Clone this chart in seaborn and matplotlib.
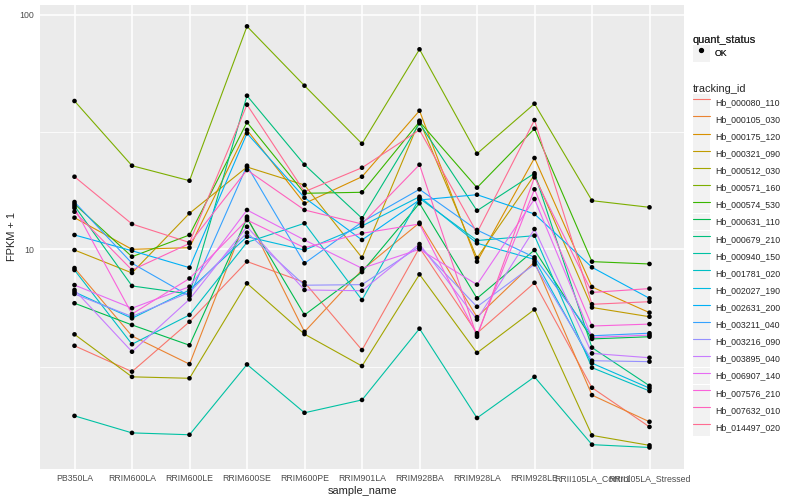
import matplotlib
matplotlib.use("Agg")
import pandas as pd
import matplotlib.pyplot as plt
from matplotlib.lines import Line2D
from matplotlib.patches import Patch
from matplotlib.legend_handler import HandlerTuple
import seaborn as sns

# samples on the x axis, in plot order
samples = [
    "PB350LA", "RRIM600LA", "RRIM600LE", "RRIM600SE", "RRIM600PE", "RRIM901LA",
    "RRIM928BA", "RRIM928LA", "RRIM928LE", "RRII105LA_Control", "RRII105LA_Stressed",
]

tracking_ids = [
    "Hb_000080_110", "Hb_000105_030", "Hb_000175_120", "Hb_000321_090",
    "Hb_000512_030", "Hb_000571_160", "Hb_000574_530", "Hb_000631_110",
    "Hb_000679_210", "Hb_000940_150", "Hb_001781_020", "Hb_002027_190",
    "Hb_002631_200", "Hb_003211_040", "Hb_003216_090", "Hb_003895_040",
    "Hb_006907_140", "Hb_007576_210", "Hb_007632_010", "Hb_014497_020",
]

# ggplot default hue palette for 20 groups
palette = [
    "#F8766D", "#EA8331", "#D89000", "#C09B00", "#A3A500", "#7CAE00", "#39B600",
    "#00BB4E", "#00BF7D", "#00C1A3", "#00BFC4", "#00BAE0", "#00B0F6", "#35A2FF",
    "#9590FF", "#C77CFF", "#E76BF3", "#FA62DB", "#FF62BC", "#FF6C91",
]

# FPKM + 1 per gene, one value per sample
hb_000080_110 = [3.88, 3.01, 4.91, 8.87, 7.23, 3.72, 10.15, 4.39, 7.20, 2.57, 1.75]
hb_000105_030 = [8.32, 4.27, 3.24, 13.77, 4.45, 8.16, 12.98, 5.14, 8.83, 2.39, 1.84]
hb_000175_120 = [13.64, 10.0, 10.16, 32.25, 15.68, 20.39, 38.97, 8.86, 24.50, 6.91, 5.37]
hb_000321_090 = [9.93, 7.93, 14.24, 22.43, 18.79, 9.21, 35.33, 9.18, 20.74, 5.65, 5.16]
hb_000512_030 = [4.34, 2.86, 2.82, 7.16, 4.35, 3.18, 7.82, 3.62, 5.54, 1.61, 1.46]
hb_000571_160 = [42.87, 22.72, 19.61, 89.2, 49.83, 28.19, 71.2, 25.56, 41.75, 16.12, 15.10]
hb_000574_530 = [15.60, 9.30, 11.51, 34.78, 17.33, 17.50, 34.99, 18.31, 32.67, 8.86, 8.66]
hb_000631_110 = [5.89, 4.76, 3.90, 13.56, 5.25, 8.00, 15.71, 6.18, 9.93, 4.15, 4.24]
hb_000679_210 = [15.30, 6.98, 6.45, 45.16, 22.94, 13.56, 34.44, 14.61, 21.09, 3.81, 2.62]
hb_000940_150 = [1.95, 1.65, 1.62, 3.23, 2.01, 2.28, 4.59, 1.91, 2.86, 1.47, 1.43]
hb_001781_020 = [8.16, 3.94, 5.25, 10.71, 12.91, 6.08, 16.50, 10.90, 11.43, 3.13, 2.49]
hb_002027_190 = [6.58, 5.08, 6.71, 11.32, 9.93, 12.57, 16.76, 10.61, 9.06, 3.27, 2.56]
hb_002631_200 = [11.51, 9.86, 8.35, 31.22, 16.60, 10.96, 16.23, 17.09, 14.14, 8.38, 6.18]
hb_003211_040 = [15.91, 8.72, 6.32, 22.72, 8.72, 13.07, 18.02, 12.09, 9.24, 4.28, 4.39]
hb_003216_090 = [6.45, 5.17, 6.56, 11.77, 7.03, 7.07, 10.28, 5.69, 8.63, 3.35, 3.32]
hb_003895_040 = [6.71, 3.66, 6.12, 12.48, 6.71, 6.66, 10.53, 5.02, 12.20, 3.60, 3.45]
hb_006907_140 = [7.04, 5.61, 6.93, 14.71, 10.96, 8.30, 10.0, 7.07, 16.38, 4.21, 4.31]
hb_007576_210 = [15.0, 5.30, 7.51, 13.33, 10.16, 11.70, 12.82, 4.31, 18.02, 4.71, 4.80]
hb_007632_010 = [14.46, 8.16, 10.59, 21.78, 14.71, 12.82, 22.94, 4.24, 20.27, 6.55, 6.80]
hb_014497_020 = [20.39, 12.82, 10.69, 41.35, 17.60, 22.27, 32.25, 11.77, 35.57, 5.83, 5.98]

series = [
    hb_000080_110, hb_000105_030, hb_000175_120, hb_000321_090, hb_000512_030,
    hb_000571_160, hb_000574_530, hb_000631_110, hb_000679_210, hb_000940_150,
    hb_001781_020, hb_002027_190, hb_002631_200, hb_003211_040, hb_003216_090,
    hb_003895_040, hb_006907_140, hb_007576_210, hb_007632_010, hb_014497_020,
]

rows = []
for gene, values in zip(tracking_ids, series):
    for pos, (sample, v) in enumerate(zip(samples, values)):
        rows.append({"tracking_id": gene, "sample_name": sample, "pos": pos,
                     "fpkm": v, "quant_status": "OK"})
df = pd.DataFrame(rows)

sns.set_theme(style="white")
plt.rcParams["font.family"] = ["Liberation Sans", "DejaVu Sans"]

fig = plt.figure(figsize=(8, 5), dpi=100)
ax = fig.add_axes([40 / 800, 1 - 468.7 / 500, 644 / 800, 463.7 / 500])
ax.set_facecolor("#EBEBEB")
for s in ax.spines.values():
    s.set_visible(False)

sns.lineplot(data=df, x="pos", y="fpkm", hue="tracking_id", hue_order=tracking_ids,
             palette=palette, estimator=None, sort=False, linewidth=0.8,
             legend=False, ax=ax, zorder=2)
sns.scatterplot(data=df, x="pos", y="fpkm", color="black", s=11, marker="o",
                edgecolor="none", legend=False, ax=ax, zorder=3)

ax.set_yscale("log")
ax.set_ylim(1.161, 110)
ax.set_xlim(-0.6, len(samples) - 0.4)
ax.set_yticks([10, 100])
ax.set_yticklabels(["10", "100"])
ax.set_yticks([10 ** 0.5, 10 ** 1.5], minor=True)
ax.set_yticklabels([], minor=True)
ax.set_xticks(range(len(samples)))
ax.set_xticklabels(samples)

ax.grid(True, which="major", color="white", linewidth=1.1)
ax.grid(True, which="minor", axis="y", color="white", linewidth=0.55)
ax.set_axisbelow(True)
ax.tick_params(axis="both", which="major", length=2.5, width=0.8, color="#333333",
               labelsize=6.3, labelcolor="#4D4D4D", pad=1.5)
ax.tick_params(axis="y", which="minor", length=0)

ax.set_xlabel("sample_name", fontsize=7.9, labelpad=2)
ax.set_ylabel("FPKM + 1", fontsize=7.9, labelpad=2)

# legends, ggplot style with grey key boxes
key_bg = "#F2F2F2"
common = dict(loc="upper left", frameon=False, fontsize=6.3, title_fontsize=7.9,
              handler_map={tuple: HandlerTuple(ndivide=1)},
              handlelength=1.95, handleheight=2.6, handletextpad=0.6,
              labelspacing=0.02, borderaxespad=0, borderpad=0.3, alignment="left")

status_handles = [(Patch(facecolor=key_bg, edgecolor="none"),
                   Line2D([], [], marker="o", color="black", linestyle="none",
                          markersize=2.8))]
leg1 = fig.legend(status_handles, ["OK"], title="quant_status",
                  bbox_to_anchor=(690 / 800, 1 - 32 / 500), **common)

gene_handles = [(Patch(facecolor=key_bg, edgecolor="none"),
                 Line2D([], [], color=c, linewidth=0.8)) for c in palette]
leg2 = fig.legend(gene_handles, tracking_ids, title="tracking_id",
                  bbox_to_anchor=(690 / 800, 1 - 81 / 500), **common)
fig.add_artist(leg1)

fig.savefig("out.png", dpi=100, facecolor="white")
